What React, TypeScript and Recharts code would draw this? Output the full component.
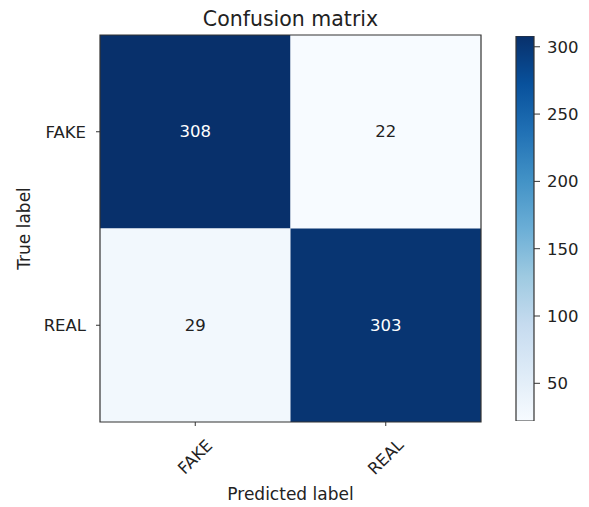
import React from 'react';
import {
  ScatterChart,
  Scatter,
  XAxis,
  YAxis,
  ReferenceArea,
  Label,
  ComposedChart,
  Bar,
} from 'recharts';

const classes = ['FAKE', 'REAL'];
const rowFake = [308, 22];
const rowReal = [29, 303];
const colorbarTicks = [50, 100, 150, 200, 250, 300];

const matrix = [rowFake, rowReal];
const allValues = [...rowFake, ...rowReal];
const vmin = Math.min(...allValues);
const vmax = Math.max(...allValues);
const thresh = vmax / 2;

// matplotlib "Blues"
const BLUES = ['#f7fbff', '#deebf7', '#c6dbef', '#9ecae1', '#6baed6', '#4292c6', '#2171b5', '#08519c', '#08306b'];

const hexToRgb = (h: string) => [1, 3, 5].map((i) => parseInt(h.slice(i, i + 2), 16));

const blues = (t: number) => {
  const c = Math.max(0, Math.min(1, t));
  const p = c * (BLUES.length - 1);
  const i = Math.min(Math.floor(p), BLUES.length - 2);
  const f = p - i;
  const a = hexToRgb(BLUES[i]);
  const b = hexToRgb(BLUES[i + 1]);
  const rgb = a.map((v, k) => Math.round(v + (b[k] - v) * f));
  return `rgb(${rgb.join(',')})`;
};

const cells = matrix.flatMap((row, r) => row.map((v, c) => ({ x: c, y: r, v })));
const colorbarData = [{ name: 'cb', range: [vmin, vmax] }];

const TICK_FONT = 16.5;
const TEXT = '#222';

const XTick = (props: any) => {
  const { x, y, payload } = props;
  const cy = y + 29;
  return (
    <text
      x={x}
      y={cy}
      fill={TEXT}
      fontSize={TICK_FONT}
      textAnchor="middle"
      dominantBaseline="central"
      transform={`rotate(-45, ${x}, ${cy})`}
    >
      {classes[payload.value]}
    </text>
  );
};

const CellText = (props: any) => {
  const { cx, cy, payload } = props;
  return (
    <text
      x={cx}
      y={cy}
      fill={payload.v > thresh ? '#ffffff' : TEXT}
      fontSize={TICK_FONT}
      textAnchor="middle"
      dominantBaseline="central"
    >
      {payload.v}
    </text>
  );
};

const App: React.FC = () => {
  return (
    <div
      style={{
        position: 'absolute',
        left: 0,
        top: 0,
        width: 589,
        height: 507,
        background: '#fff',
        fontFamily: '"DejaVu Sans", sans-serif',
      }}
    >
      <div
        style={{
          position: 'absolute',
          left: 100,
          top: 9,
          width: 381,
          textAlign: 'center',
          fontSize: 20.5,
          lineHeight: '21px',
          color: TEXT,
        }}
      >
        Confusion matrix
      </div>

      <div style={{ position: 'absolute', left: 0, top: 0 }}>
        <ScatterChart width={589} height={507} margin={{ top: 35, right: 108, bottom: 0, left: 0 }}>
          <XAxis
            type="number"
            dataKey="x"
            domain={[-0.5, 1.5]}
            ticks={[0, 1]}
            height={85}
            tickSize={4}
            tickMargin={2}
            axisLine={false}
            tickLine={{ stroke: '#333' }}
            tick={<XTick />}
            allowDataOverflow
          >
            <Label value="Predicted label" position="insideBottom" offset={7} fill={TEXT} fontSize={17} />
          </XAxis>
          <YAxis
            type="number"
            dataKey="y"
            domain={[-0.5, 1.5]}
            ticks={[0, 1]}
            reversed
            width={100}
            tickSize={4}
            tickMargin={10}
            axisLine={false}
            tickLine={{ stroke: '#333' }}
            tick={{ fill: TEXT, fontSize: TICK_FONT }}
            tickFormatter={(v: number) => classes[v]}
            allowDataOverflow
          >
            <Label
              value="True label"
              position="insideLeft"
              angle={-90}
              offset={24}
              fill={TEXT}
              fontSize={17}
              style={{ textAnchor: 'middle' }}
            />
          </YAxis>
          {cells.map((d) => (
            <ReferenceArea
              key={`${d.x}-${d.y}`}
              x1={d.x - 0.5}
              x2={d.x + 0.5}
              y1={d.y - 0.5}
              y2={d.y + 0.5}
              fill={blues((d.v - vmin) / (vmax - vmin))}
              fillOpacity={1}
              stroke="none"
            />
          ))}
          <ReferenceArea x1={-0.5} x2={1.5} y1={-0.5} y2={1.5} fill="none" stroke="#333" strokeWidth={1.2} />
          <Scatter data={cells} shape={<CellText />} isAnimationActive={false} />
        </ScatterChart>
      </div>

      <div style={{ position: 'absolute', left: 0, top: 0 }}>
        <ComposedChart
          width={589}
          height={507}
          data={colorbarData}
          barCategoryGap={0}
          margin={{ top: 36, right: 0, bottom: 86, left: 516 }}
        >
          <defs>
            <linearGradient id="bluesGrad" x1="0" y1="1" x2="0" y2="0">
              {BLUES.map((c, i) => (
                <stop key={c} offset={`${(i / (BLUES.length - 1)) * 100}%`} stopColor={c} />
              ))}
            </linearGradient>
          </defs>
          <XAxis type="category" dataKey="name" hide />
          <YAxis
            type="number"
            orientation="right"
            domain={[vmin, vmax]}
            ticks={colorbarTicks}
            width={55}
            tickSize={6}
            tickMargin={7}
            axisLine={false}
            tickLine={{ stroke: '#333' }}
            tick={{ fill: TEXT, fontSize: TICK_FONT, textAnchor: 'start' }}
            allowDataOverflow
          />
          <Bar
            dataKey="range"
            fill="url(#bluesGrad)"
            stroke="#333"
            strokeWidth={1.2}
            isAnimationActive={false}
          />
        </ComposedChart>
      </div>
    </div>
  );
};

export default App;
